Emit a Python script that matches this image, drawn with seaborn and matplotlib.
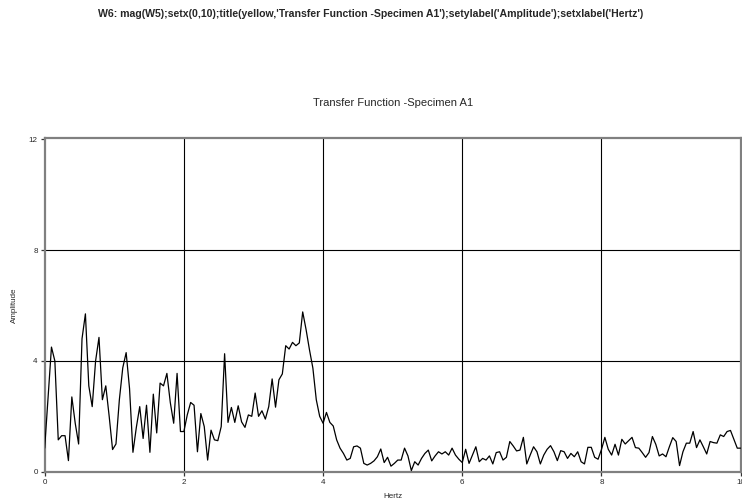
import numpy as np
import pandas as pd
import matplotlib
matplotlib.use("Agg")
import matplotlib.pyplot as plt
import seaborn as sns

# frequency bins: 206 samples across 0..10 Hz
freq_step = 10 / 205

# magnitude, one value per bin
amplitude = [
    0.85, 2.7, 4.5, 4.0, 1.15, 1.3, 1.3, 0.4, 2.7, 1.75,
    1.0, 4.8, 5.7, 3.1, 2.35, 4.0, 4.85, 2.6, 3.1, 2.0,
    0.8, 1.0, 2.6, 3.75, 4.3, 3.0, 0.7, 1.6, 2.35, 1.2,
    2.4, 0.7, 2.8, 1.4, 3.2, 3.1, 3.55, 2.5, 1.75, 3.55,
    1.45, 1.45, 2.05, 2.5, 2.4, 0.72, 2.1, 1.63, 0.42, 1.5,
    1.15, 1.12, 1.63, 4.26, 1.78, 2.32, 1.78, 2.38, 1.8, 1.6,
    2.05, 2.0, 2.84, 2.0, 2.2, 1.9, 2.35, 3.35, 2.33, 3.32,
    3.53, 4.55, 4.43, 4.67, 4.55, 4.65, 5.77, 5.13, 4.4, 3.74,
    2.6, 2.0, 1.75, 2.14, 1.78, 1.65, 1.15, 0.85, 0.66, 0.42,
    0.48, 0.9, 0.93, 0.85, 0.3, 0.24, 0.3, 0.39, 0.54, 0.82,
    0.33, 0.52, 0.2, 0.3, 0.42, 0.42, 0.85, 0.57, 0.04, 0.36,
    0.24, 0.48, 0.66, 0.78, 0.39, 0.57, 0.72, 0.64, 0.72, 0.6,
    0.85, 0.6, 0.45, 0.33, 0.81, 0.3, 0.6, 0.9, 0.36, 0.48,
    0.42, 0.57, 0.28, 0.69, 0.72, 0.42, 0.52, 1.09, 0.93, 0.75,
    0.78, 1.24, 0.28, 0.6, 0.9, 0.72, 0.28, 0.6, 0.81, 0.94,
    0.72, 0.4, 0.76, 0.72, 0.48, 0.66, 0.54, 0.72, 0.36, 0.28,
    0.88, 0.88, 0.52, 0.45, 0.8, 1.24, 0.81, 0.6, 0.99, 0.6,
    1.17, 1.0, 1.12, 1.24, 0.87, 0.85, 0.69, 0.52, 0.69, 1.27,
    0.99, 0.57, 0.64, 0.54, 0.9, 1.23, 1.09, 0.22, 0.72, 1.03,
    1.03, 1.45, 0.87, 1.15, 0.9, 0.64, 1.09, 1.05, 1.03, 1.33,
    1.27, 1.45, 1.49, 1.17, 0.85, 0.85,
]
hertz = np.arange(len(amplitude)) * freq_step

x_ticks = [0, 2, 4, 6, 8, 10]
y_ticks = [0, 4, 8, 12]

sns.set_style("white")
plt.rcParams["font.family"] = ["Liberation Sans", "DejaVu Sans"]

df = pd.DataFrame({"Hertz": hertz, "Amplitude": amplitude})

fig = plt.figure(figsize=(7.42, 5.01), dpi=100)
ax = fig.add_axes([0.0602, 0.0585, 0.938, 0.666])

# grid first so the trace sits on top
for gx in x_ticks[1:-1]:
    ax.axvline(gx, color="black", linewidth=0.8, zorder=1)
for gy in y_ticks[1:-1]:
    ax.axhline(gy, color="black", linewidth=0.8, zorder=1)

sns.lineplot(data=df, x="Hertz", y="Amplitude", color="black",
             linewidth=0.9, ax=ax, zorder=3)

ax.set_xlim(0, 10)
ax.set_ylim(0, 12.05)
ax.set_xticks(x_ticks)
ax.set_yticks(y_ticks)
ax.tick_params(axis="both", direction="out", length=3, width=0.9,
               color="#333333", labelsize=5.8, pad=2, bottom=True, left=True)
for side in ax.spines.values():
    side.set_color("#808080")
    side.set_linewidth(1.6)

ax.set_xlabel("Hertz", fontsize=5.8, labelpad=5)
ax.set_ylabel("Amplitude", fontsize=5.8, labelpad=8)
ax.set_title("Transfer Function -Specimen A1", fontsize=8, pad=23)

fig.text(0.5, 0.972,
         "W6: mag(W5);setx(0,10);title(yellow,'Transfer Function -Specimen A1');"
         "setylabel('Amplitude');setxlabel('Hertz')",
         ha="center", va="center", fontsize=7.55, fontweight="bold")

fig.savefig("out.png", dpi=100)
plt.close(fig)
